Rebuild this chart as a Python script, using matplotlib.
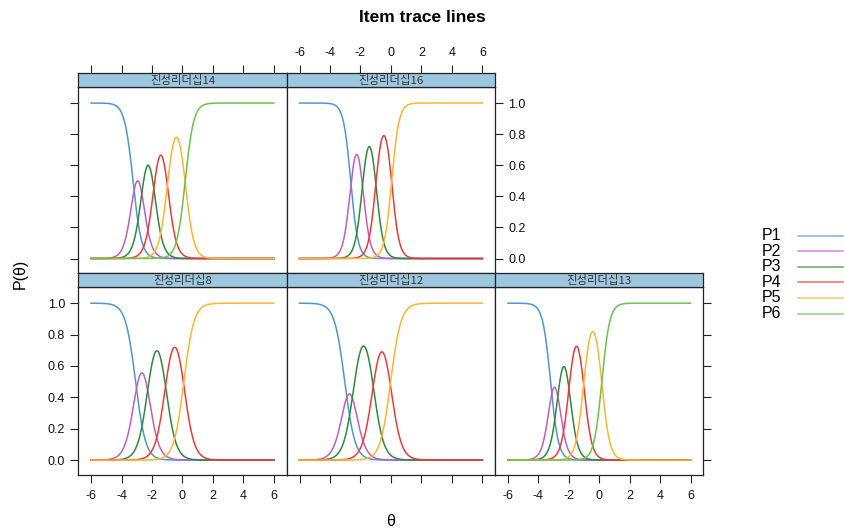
import numpy as np
import matplotlib
matplotlib.use("Agg")
import matplotlib.pyplot as plt
from matplotlib.lines import Line2D

plt.rcParams['font.family'] = ['Liberation Sans', 'Noto Sans CJK KR', 'DejaVu Sans']

# ---- data (graded response model parameters) ----
items = ['진성리더십14', '진성리더십16', '진성리더십8', '진성리더십12', '진성리더십13']
slopes = [3.60, 4.15, 3.02, 2.95, 3.87]
thresholds = [
    [-3.25, -2.64, -1.87, -0.98, 0.18],
    [-2.64, -1.86, -0.985, 0.05],
    [-3.08, -2.25, -1.11, 0.09],
    [-3.03, -2.42, -1.17, -0.02],
    [-3.20, -2.68, -1.97, -1.02, 0.17],
]
cat_labels = ['P1', 'P2', 'P3', 'P4', 'P5', 'P6']
cat_colors = ['#4E96D8', '#C25EBE', '#2E8B3A', '#F03A3A', '#FFB52E', '#6DC24A']
x_ticks = [-6, -4, -2, 0, 2, 4, 6]
y_ticks = [0.0, 0.2, 0.4, 0.6, 0.8, 1.0]
theta = np.linspace(-6, 6, 601)

# ---- layout ----
W, H = 844, 532
fig = plt.figure(figsize=(W / 100, H / 100), dpi=100)

def rect(x0, y0, x1, y1):
    return [x0 / W, 1 - y1 / H, (x1 - x0) / W, (y1 - y0) / H]

cols = [78.3, 286.7, 495.2, 703.3]
rows = {0: (73.3, 86.7, 273.3), 1: (273.3, 286.7, 475.0)}
panel_pos = [(0, 0), (0, 1), (1, 0), (1, 1), (1, 2)]
# None = no ticks, False = ticks only, True = ticks + labels
axes_spec = [
    dict(left=False, right=None, top=False, bottom=None),
    dict(left=None, right=True, top=True, bottom=None),
    dict(left=True, right=None, top=None, bottom=True),
    dict(left=None, right=None, top=None, bottom=False),
    dict(left=None, right=False, top=None, bottom=True),
]

XLIM = (-6.84, 6.84)
YLIM = (-0.095, 1.105)
strip_color = '#9DC7DF'
fs_tick = 9

def grm_probs(a, bs, th):
    cum = [np.ones_like(th)] + [1 / (1 + np.exp(-a * (th - b))) for b in bs] + [np.zeros_like(th)]
    return [cum[k] - cum[k + 1] for k in range(len(bs) + 1)]

for i, name in enumerate(items):
    r, c = panel_pos[i]
    ys, yp, yb = rows[r]
    x0, x1 = cols[c], cols[c + 1]
    ax = fig.add_axes(rect(x0, yp, x1, yb))
    sax = fig.add_axes(rect(x0, ys, x1, yp))

    probs = grm_probs(slopes[i], thresholds[i], theta)
    for k, p in enumerate(probs):
        ax.plot(theta, p, color=cat_colors[k], lw=1.1)
    ax.set_xlim(XLIM)
    ax.set_ylim(YLIM)
    ax.set_xticks(x_ticks)
    ax.set_yticks(y_ticks)
    ax.set_yticklabels(['%.1f' % v for v in y_ticks])
    ax.set_xticklabels([str(v) for v in x_ticks])
    spec = axes_spec[i]
    ax.tick_params(axis='both', direction='out', length=5.5, width=0.8,
                   labelsize=fs_tick, colors='#222222', labelcolor='#111111')
    ax.tick_params(axis='y', left=spec['left'] is not None, labelleft=bool(spec['left']),
                   right=spec['right'] is not None, labelright=bool(spec['right']), pad=4)
    ax.tick_params(axis='x', bottom=spec['bottom'] is not None, labelbottom=bool(spec['bottom']),
                   top=False, labeltop=False, pad=5)
    for s in ax.spines.values():
        s.set_linewidth(0.9)
        s.set_color('#222222')

    # strip
    sax.set_facecolor(strip_color)
    sax.set_xlim(XLIM)
    sax.set_ylim(0, 1)
    sax.set_yticks([])
    sax.set_xticks(x_ticks)
    sax.set_xticklabels([str(v) for v in x_ticks])
    sax.tick_params(axis='x', bottom=False, labelbottom=False,
                    top=spec['top'] is not None, labeltop=bool(spec['top']),
                    direction='out', length=5.5, width=0.8, labelsize=fs_tick,
                    colors='#222222', labelcolor='#111111', pad=5)
    for s in sax.spines.values():
        s.set_linewidth(0.9)
        s.set_color('#222222')
    sax.text(0.5, 0.47, name, transform=sax.transAxes, ha='center', va='center',
             fontsize=8.2, color='#333333', family=['Noto Sans CJK KR', 'DejaVu Sans'])

# titles and axis labels
fig.text(422 / W, 1 - 18 / H, 'Item trace lines', ha='center', va='center',
         fontsize=12.5, fontweight='bold')
fig.text(391 / W, 1 - 521 / H, 'θ', ha='center', va='center', fontsize=11.5)
fig.text(20 / W, 1 - 274 / H, 'P(θ)', ha='center', va='center', rotation=90, fontsize=11.5)

# legend
leg_y = [235.5, 251.0, 266.7, 282.3, 298.0, 313.8]
for k, lab in enumerate(cat_labels):
    y = 1 - leg_y[k] / H
    fig.text(762 / W, y, lab, ha='left', va='center', fontsize=11.5)
    fig.add_artist(Line2D([798 / W, 843 / W], [y, y], transform=fig.transFigure,
                          color=cat_colors[k], lw=1.1, alpha=0.75))

fig.savefig('out.png', dpi=100)
